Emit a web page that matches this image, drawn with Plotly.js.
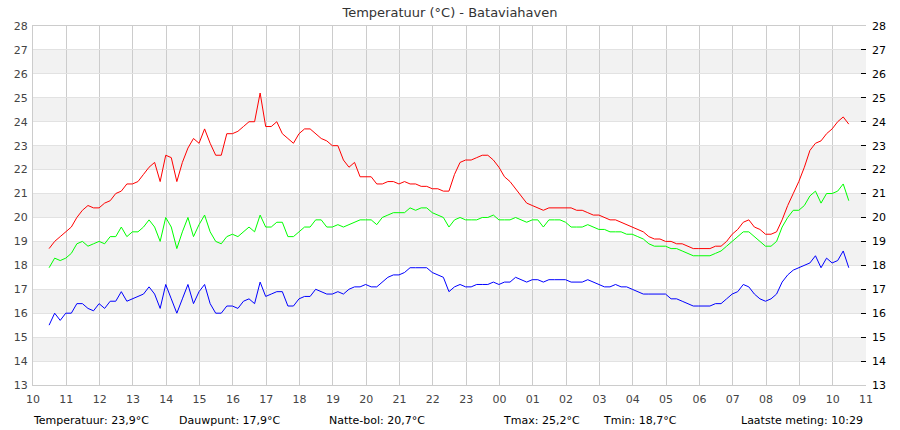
<!DOCTYPE html>
<html>
<head>
<meta charset="utf-8">
<script src="https://cdn.plot.ly/plotly-3.0.1.min.js"></script>
<style>
  body { margin: 0; background: #fff; }
  #grafiek { width: 900px; height: 430px; }
</style>
</head>
<body>
<div id="grafiek"></div>
<script>
// metingen om de 10 minuten, van 10:29 tot 10:29 de volgende dag
var startTijd = '2024-07-10 10:29';
var stapMinuten = 10;

var temperatuur = [
  18.7, 19.0, 19.2, 19.4, 19.6, 20.0, 20.3, 20.5, 20.4, 20.4, 20.6, 20.7, 21.0, 21.1, 21.4, 21.4, 21.5, 21.8, 22.1, 22.3, 21.5, 22.6, 22.5, 21.5, 22.3, 22.9, 23.3,
  23.1, 23.7, 23.1, 22.6, 22.6, 23.5, 23.5, 23.6, 23.8, 24.0, 24.0, 25.2, 23.8, 23.8, 24.0, 23.5, 23.3, 23.1, 23.5, 23.7, 23.7, 23.5, 23.3, 23.2, 23.0, 23.0, 22.4, 22.1, 22.3, 21.7,
  21.7, 21.7, 21.4, 21.4, 21.5, 21.5, 21.4, 21.5, 21.4, 21.4, 21.3, 21.3, 21.2, 21.2, 21.1, 21.1, 21.8, 22.3, 22.4, 22.4, 22.5, 22.6, 22.6, 22.4, 22.1, 21.7, 21.5, 21.2, 20.9, 20.6,
  20.5, 20.4, 20.3, 20.4, 20.4, 20.4, 20.4, 20.4, 20.3, 20.3, 20.2, 20.1, 20.1, 20.0, 19.9, 19.9, 19.8, 19.7, 19.6, 19.5, 19.4, 19.2, 19.1, 19.1, 19.0, 19.0, 18.9, 18.9, 18.8, 18.7,
  18.7, 18.7, 18.7, 18.8, 18.8, 19.0, 19.3, 19.5, 19.8, 19.9, 19.6, 19.5, 19.3, 19.3, 19.4, 19.9, 20.5, 21.0, 21.5, 22.1, 22.8, 23.1, 23.2, 23.5, 23.7, 24.0, 24.2, 23.9
];

var natteBol = [
  17.9, 18.3, 18.2, 18.3, 18.5, 18.9, 19.0, 18.8, 18.9, 19.0, 18.9, 19.2, 19.2, 19.6, 19.2, 19.4, 19.4, 19.6, 19.9, 19.6, 19.0, 20.0, 19.6, 18.7, 19.4, 20.0, 19.2,
  19.7, 20.1, 19.4, 19.0, 18.9, 19.2, 19.3, 19.2, 19.4, 19.6, 19.4, 20.1, 19.6, 19.6, 19.8, 19.8, 19.2, 19.2, 19.4, 19.6, 19.6, 19.9, 19.9, 19.6, 19.6, 19.7, 19.6, 19.7, 19.8, 19.9,
  19.9, 19.9, 19.7, 20.0, 20.1, 20.2, 20.2, 20.2, 20.4, 20.3, 20.4, 20.4, 20.2, 20.1, 20.0, 19.6, 19.9, 20.0, 19.9, 19.9, 19.9, 20.0, 20.0, 20.1, 19.9, 19.9, 19.9, 20.0, 19.9, 19.8,
  19.9, 19.9, 19.6, 19.9, 19.9, 19.9, 19.8, 19.6, 19.6, 19.6, 19.7, 19.6, 19.5, 19.5, 19.4, 19.4, 19.4, 19.3, 19.3, 19.2, 19.1, 18.9, 18.8, 18.8, 18.8, 18.7, 18.7, 18.6, 18.5, 18.4,
  18.4, 18.4, 18.4, 18.5, 18.6, 18.8, 19.0, 19.2, 19.4, 19.4, 19.2, 19.0, 18.8, 18.8, 19.0, 19.6, 20.0, 20.3, 20.3, 20.5, 20.9, 21.1, 20.6, 21.0, 21.0, 21.1, 21.4, 20.7
];

var dauwpunt = [
  15.5, 16.0, 15.7, 16.0, 16.0, 16.4, 16.4, 16.2, 16.1, 16.4, 16.2, 16.5, 16.5, 16.9, 16.5, 16.6, 16.7, 16.8, 17.1, 16.8, 16.2, 17.2, 16.6, 16.0, 16.6, 17.2, 16.4,
  16.9, 17.2, 16.4, 16.0, 16.0, 16.3, 16.3, 16.2, 16.5, 16.6, 16.4, 17.3, 16.7, 16.8, 16.9, 16.9, 16.3, 16.3, 16.6, 16.7, 16.7, 17.0, 16.9, 16.8, 16.8, 16.9, 16.8, 17.0, 17.1, 17.1,
  17.2, 17.1, 17.1, 17.3, 17.5, 17.6, 17.6, 17.7, 17.9, 17.9, 17.9, 17.9, 17.7, 17.6, 17.5, 16.9, 17.1, 17.2, 17.1, 17.1, 17.2, 17.2, 17.2, 17.3, 17.2, 17.3, 17.3, 17.5, 17.4, 17.3,
  17.4, 17.4, 17.3, 17.4, 17.4, 17.4, 17.4, 17.3, 17.3, 17.3, 17.4, 17.3, 17.2, 17.1, 17.1, 17.2, 17.1, 17.1, 17.0, 16.9, 16.8, 16.8, 16.8, 16.8, 16.8, 16.6, 16.6, 16.5, 16.4, 16.3,
  16.3, 16.3, 16.3, 16.4, 16.4, 16.6, 16.8, 16.9, 17.2, 17.1, 16.8, 16.6, 16.5, 16.6, 16.8, 17.3, 17.6, 17.8, 17.9, 18.0, 18.1, 18.4, 17.9, 18.3, 18.1, 18.2, 18.6, 17.9
];

// grijze banden op de y-as
var banden = [14, 16, 18, 20, 22, 24, 26];

// teksten onder de grafiek
var infoTeksten = ['Temperatuur: 23,9°C', 'Dauwpunt: 17,9°C', 'Natte-bol: 20,7°C', 'Tmax: 25,2°C', 'Tmin: 18,7°C', 'Laatste meting: 10:29'];
var infoPosities = [-0.003, 0.173, 0.353, 0.562, 0.682, 0.847];

/* Maakt de tijdstippen (tekst) voor de x-as
Param :   n : aantal metingen
return :  tijden : lijst van String
*/
function maakTijden(n) {
  var d = new Date(startTijd.replace(' ', 'T') + ':00Z');
  var tijden = [];
  for (var i = 0; i < n; i++) {
    var t = new Date(d.getTime() + i * stapMinuten * 60000);
    tijden.push(t.toISOString().slice(0, 16).replace('T', ' '));
  }
  return tijden;
}

var tijden = maakTijden(temperatuur.length);
var lettertype = 'DejaVu Sans, sans-serif';

function lijn(y, kleur, naam) {
  return {
    x: tijden,
    y: y,
    name: naam,
    type: 'scatter',
    mode: 'lines',
    line: { color: kleur, width: 1 },
    hoverinfo: 'skip'
  };
}

var data = [
  lijn(dauwpunt, '#0000ff', 'Dauwpunt'),
  lijn(natteBol, '#00ff00', 'Natte-bol'),
  lijn(temperatuur, '#ff0000', 'Temperatuur')
];
// onzichtbare lijn, alleen om de rechter as te tekenen
var rechts = lijn(temperatuur, 'rgba(0,0,0,0)', 'as');
rechts.yaxis = 'y2';
data.push(rechts);

var vormen = banden.map(function(b) {
  return {
    type: 'rect', xref: 'paper', yref: 'y', layer: 'below',
    x0: 0, x1: 1, y0: b, y1: b + 1,
    fillcolor: '#f2f2f2', line: { width: 0 }
  };
});

var notities = infoTeksten.map(function(tekst, i) {
  return {
    text: tekst, xref: 'paper', yref: 'paper',
    x: infoPosities[i], y: -0.098, xanchor: 'left', yanchor: 'middle',
    showarrow: false, font: { family: lettertype, size: 11, color: '#000' }
  };
});

var layout = {
  width: 900,
  height: 430,
  margin: { l: 33, r: 34, t: 26, b: 45 },
  paper_bgcolor: '#fff',
  plot_bgcolor: '#fff',
  showlegend: false,
  title: {
    text: 'Temperatuur (°C) - Bataviahaven',
    font: { family: lettertype, size: 13, color: '#333' },
    x: 0.5, xanchor: 'center', y: 0.972, yanchor: 'middle', yref: 'container'
  },
  xaxis: {
    type: 'date',
    range: ['2024-07-10 10:00', '2024-07-11 11:00'],
    dtick: 3600000,
    tick0: '2024-07-10 10:00',
    tickformat: '%H',
    showgrid: true, gridcolor: '#cccccc', gridwidth: 1,
    showline: true, linecolor: '#cccccc', mirror: true,
    ticks: '', ticklabelstandoff: 4,
    tickfont: { family: lettertype, size: 11, color: '#444' },
    zeroline: false, fixedrange: true
  },
  yaxis: {
    range: [13, 28],
    dtick: 1,
    showgrid: true, gridcolor: '#e2e2e2', gridwidth: 1,
    showline: true, linecolor: '#cccccc',
    ticks: '', ticklabelstandoff: 2,
    tickfont: { family: lettertype, size: 11, color: '#444' },
    zeroline: false, fixedrange: true
  },
  yaxis2: {
    range: [13, 28],
    dtick: 1,
    overlaying: 'y',
    side: 'right',
    showgrid: false, showline: false, zeroline: false,
    ticks: 'inside', ticklen: 5, tickcolor: '#000', tickwidth: 1,
    ticklabelstandoff: 5,
    tickfont: { family: lettertype, size: 11, color: '#000' },
    fixedrange: true
  },
  shapes: vormen,
  annotations: notities
};

Plotly.newPlot('grafiek', data, layout, { staticPlot: true, displayModeBar: false });
</script>
</body>
</html>
